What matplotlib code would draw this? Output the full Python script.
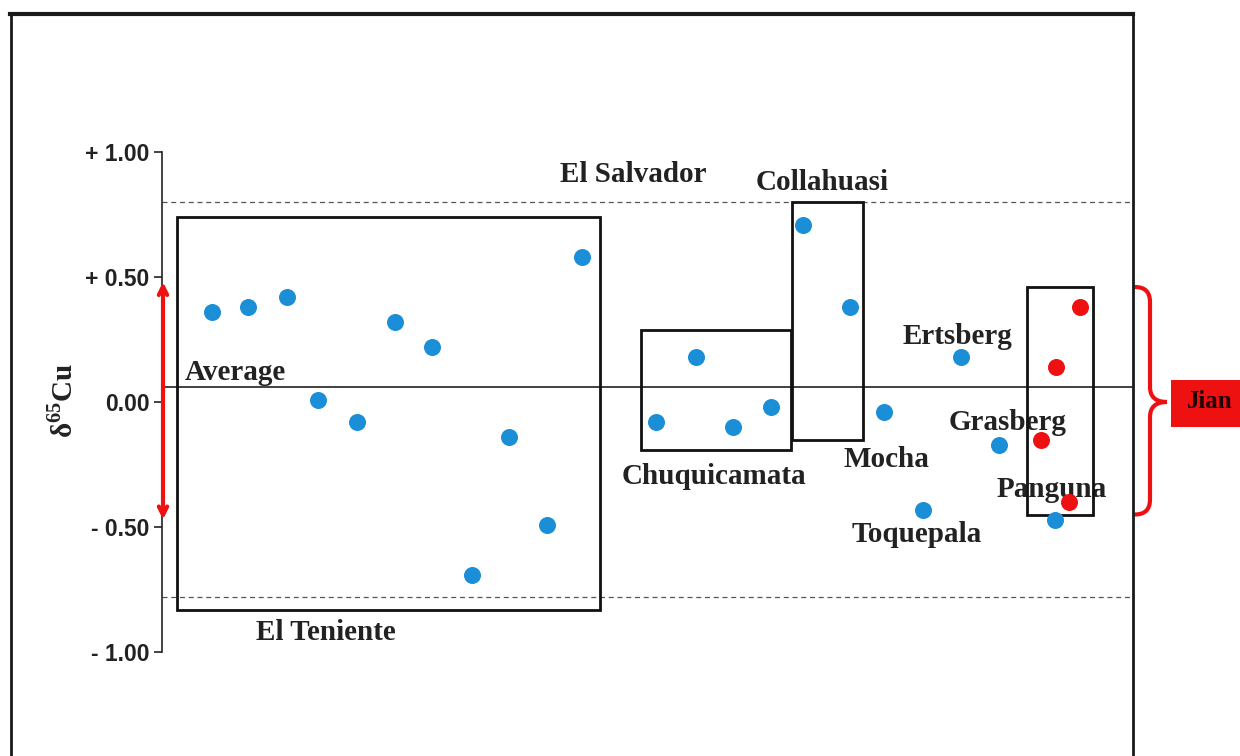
import matplotlib.pyplot as plt
from matplotlib.patches import Rectangle, PathPatch
from matplotlib.path import Path
from matplotlib.lines import Line2D

plt.rcParams['mathtext.fontset'] = 'custom'
plt.rcParams['mathtext.rm'] = 'Liberation Serif:bold'
plt.rcParams['mathtext.bf'] = 'Liberation Serif:bold'

# delta65Cu values, x is just the sample position along the plot
blue_x = [50, 86, 125, 156, 195, 233, 270, 310, 347, 385, 420,
          494, 534, 571, 609,
          641, 688,
          722, 761, 799, 837, 893]
blue_y = [0.36, 0.38, 0.42, 0.01, -0.08, 0.32, 0.22, -0.69, -0.14, -0.49, 0.58,
          -0.08, 0.18, -0.10, -0.02,
          0.71, 0.38,
          -0.04, -0.43, 0.18, -0.17, -0.47]
red_x = [879, 894, 907, 918]
red_y = [-0.15, 0.14, -0.40, 0.38]

# deposit boxes: name, x range, value range
box_names = ['El Teniente', 'Chuquicamata', 'Collahuasi', 'Jian']
box_x = [(15, 438), (479, 629), (630, 701), (865, 931)]
box_y = [(-0.83, 0.74), (-0.19, 0.29), (-0.15, 0.80), (-0.45, 0.46)]

average = 0.06
range_lines = [0.80, -0.78]
average_range = (-0.47, 0.48)

yticks = [1.0, 0.5, 0.0, -0.5, -1.0]
ytick_labels = ['+ 1.00', '+ 0.50', '0.00', '- 0.50', '- 1.00']

blue = '#1a8fd8'
red = '#ee1111'
serif = 'Liberation Serif'

fig = plt.figure(figsize=(12.4, 7.56), dpi=100)
W, H = 1240, 756
# axes: y axis at px 162, right edge at frame px 1133, 0 at px 402, 250 px per unit
ax = fig.add_axes([162 / W, 0, (1133 - 162) / W, 1])
ax.set_xlim(0, 1133 - 162)
ax.set_ylim((402 - H) / 250, 402 / 250)
ax.patch.set_alpha(0)

for s in ['top', 'right', 'bottom']:
    ax.spines[s].set_visible(False)
ax.spines['left'].set_bounds(-1, 1)
ax.spines['left'].set_linewidth(1.2)
ax.spines['left'].set_color('#222222')
ax.set_xticks([])
ax.set_yticks(yticks)
ax.set_yticklabels(ytick_labels, fontfamily='Liberation Sans', fontweight='bold',
                   fontsize=16.5, color='#222222')
ax.tick_params(axis='y', length=6, width=1.2, color='#222222', pad=3)

ax.axhline(average, color='#333333', lw=1.3, zorder=2)
for v in range_lines:
    ax.axhline(v, color='#555555', lw=0.9, ls=(0, (4, 3)), zorder=1)

for (x0, x1), (y0, y1) in zip(box_x, box_y):
    ax.add_patch(Rectangle((x0, y0), x1 - x0, y1 - y0, fill=False,
                           ec='#111111', lw=2, zorder=4))

ax.scatter(blue_x, blue_y, s=150, color=blue, zorder=5, lw=0)
ax.scatter(red_x, red_y, s=150, color=red, zorder=5, lw=0)

# red double arrow along the axis
ax.annotate('', xy=(1, average_range[1]), xytext=(1, average_range[0]),
            arrowprops=dict(arrowstyle='<->,head_length=0.6,head_width=0.3',
                            color=red, lw=3, shrinkA=0, shrinkB=0),
            annotation_clip=False, zorder=6)

labels = [('Average', 73, 0.12), ('El Teniente', 164, -0.92),
          ('El Salvador', 471, 0.91), ('Collahuasi', 660, 0.88),
          ('Chuquicamata', 552, -0.30), ('Mocha', 724, -0.23),
          ('Toquepala', 755, -0.53), ('Ertsberg', 795, 0.26),
          ('Grasberg', 846, -0.08), ('Panguna', 890, -0.35)]
for txt, x, y in labels:
    ax.text(x, y, txt, fontfamily=serif, fontweight='bold', fontsize=21,
            color='#222222', ha='center', va='center', zorder=3)

fig.text(63 / W, 1 - 400 / H, r'δ$^{65}$Cu', fontfamily=serif, fontweight='bold',
         fontsize=21, color='#222222', rotation=90, ha='center', va='center')

# curly brace for Jian
bx0, bx1, bxm = 973, 1005, 988
bt, bb, bm = 0.46, -0.45, 0.0
verts = [(bx0, bt), (bxm, bt), (bxm, bt - 0.06),
         (bxm, bm + 0.06),
         (bxm, bm), (bx1, bm),
         (bxm, bm), (bxm, bm - 0.06),
         (bxm, bb + 0.06),
         (bxm, bb), (bx0, bb)]
codes = [Path.MOVETO, Path.CURVE3, Path.CURVE3,
         Path.LINETO,
         Path.CURVE3, Path.CURVE3,
         Path.CURVE3, Path.CURVE3,
         Path.LINETO,
         Path.CURVE3, Path.CURVE3]
ax.add_patch(PathPatch(Path(verts, codes), fill=False, ec=red, lw=3,
                       clip_on=False, capstyle='round', joinstyle='miter',
                       zorder=6))

# Jian label box
ax.add_patch(Rectangle((1009, -0.10), 100, 0.19, fc=red, ec='none',
                       clip_on=False, zorder=6))
ax.text(1048, 0.0, 'Jian', fontfamily=serif, fontweight='bold', fontsize=18,
        color='#220000', ha='center', va='center', zorder=7, clip_on=False)

# outer frame
fig.add_artist(Line2D([10 / W, 1133 / W], [1 - 14 / H, 1 - 14 / H],
                      color='#1a1a1a', lw=3, transform=fig.transFigure))
fig.add_artist(Line2D([11 / W, 11 / W], [0, 1 - 14 / H],
                      color='#1a1a1a', lw=2, transform=fig.transFigure))
fig.add_artist(Line2D([1133 / W, 1133 / W], [0, 1 - 14 / H],
                      color='#1a1a1a', lw=2, transform=fig.transFigure))

fig.savefig('out.png', dpi=100)
